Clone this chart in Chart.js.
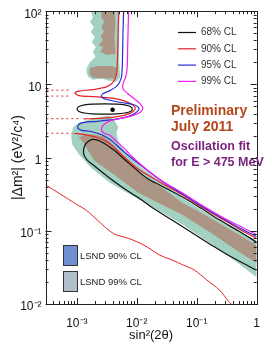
<!DOCTYPE html>
<html>
<head>
<meta charset="utf-8">
<script src="https://cdn.jsdelivr.net/npm/chart.js@4.4.1/dist/chart.umd.min.js"></script>
<style>
  html, body { margin: 0; padding: 0; background: #fff; }
  #plot { display: block; }
</style>
</head>
<body>
<canvas id="plot" width="272" height="346"></canvas>
<script>
// axis ticks
const xTicks = [1e-3, 1e-2, 1e-1, 1];
const xTickLabels = ['10⁻³', '10⁻²', '10⁻¹', '1'];
const yTicks = [1e-2, 1e-1, 1, 10, 100];
const yTickLabels = ['10⁻²', '10⁻¹', '1', '10', '10²'];

// all points are [sin²(2θ), Δm² (eV²)]
// 99% CL contour (magenta)
const cl99 = [[7.31e-3,100],[7.18e-3,60.7],[7.05e-3,32.5],[6.92e-3,17.4],[6.56e-3,12.7],[5.89e-3,10.2],[5.89e-3,8.75],
  [7.05e-3,7.5],[9.42e-3,6.21],[0.0117,5.31],[0.0126,4.69],[0.0113,4.14],[8.75e-3,3.77],[5.47e-3,3.43],[3.42e-3,3.13],
  [2.75e-3,2.76],[2.56e-3,2.43],[2.85e-3,2.15],[3.55e-3,2.02],[4.57e-3,1.67],[6.1e-3,1.35],[8.43e-3,1.02],[0.015,0.678],
  [0.0278,0.466],[0.0574,0.33],[0.118,0.227],[0.243,0.161],[0.5,0.118],[1,0.0889]];

// 95% CL contour (blue)
const cl95 = [[6.03e-3,100],[5.89e-3,51.9],[5.78e-3,23.8],[5.67e-3,14.9],[5.47e-3,12],[4.73e-3,9.62],[3.55e-3,8.22],
  [2.75e-3,7.5],[2.56e-3,6.82],[3.18e-3,6.21],[5.47e-3,5.66],[8.75e-3,5.31],[0.0109,4.69],[9.75e-3,4.14],[7.31e-3,3.65],
  [4.25e-3,3.33],[2.22e-3,3.13],[1.34e-3,3.03],[1.08e-3,2.85],[1.04e-3,2.51],[1.2e-3,2.36],[1.66e-3,2.29],[2.47e-3,2.08],
  [3.55e-3,1.78],[5.47e-3,1.3],[9.42e-3,0.897],[0.0162,0.636],[0.0278,0.458],[0.0574,0.32],[0.118,0.22],[0.243,0.156],
  [0.5,0.111],[1,0.0836]];

// 90% CL contour (red): upper lobe, lower band edge, bottom edge, thin slivers
const cl90Upper = [[5.03e-3,100],[4.91e-3,60.7],[4.82e-3,32.5],[4.73e-3,19.1],[4.57e-3,13.6],[4.09e-3,10.9],[3.18e-3,9.31],
  [1.85e-3,8.49],[1.08e-3,8.09],[9.3e-4,7.6],[1.08e-3,7.03],[1.85e-3,6.82],[3.18e-3,6.61],[5.27e-3,6.21],[7.57e-3,5.57],
  [9.42e-3,4.84],[8.75e-3,4.27],[6.56e-3,3.83],[3.81e-3,3.54],[2.22e-3,3.43],[1.29e-3,3.38]];
const cl90Band = [[8.97e-4,2.15],[1.29e-3,2.08],[1.85e-3,1.96],[2.65e-3,1.78],[3.81e-3,1.48],[5.89e-3,1.05],[0.0105,0.698],
  [0.0249,0.458],[0.0574,0.31],[0.118,0.213],[0.243,0.151],[0.5,0.107],[1,0.0785]];
const cl90Bottom = [[3.0e-4,0.425],[5.22e-4,0.32],[9.55e-4,0.234],[1.45e-3,0.19],[2.22e-3,0.139],[4.06e-3,0.0918],
  [7.38e-3,0.0785],[0.0132,0.0637],[0.0241,0.0466],[0.0389,0.0399],[0.0594,0.0341],[0.0908,0.0292],[0.147,0.0213],
  [0.238,0.0156],[0.34,0.0109],[0.376,0.01]];
const cl90SliverA = [[3.1e-4,8.35],[8.05e-4,8.35]];
const cl90SliverB = [[3.1e-4,6.93],[8.05e-4,6.93]];
const cl90SliverC = [[3.1e-4,3.4],[1.2e-3,3.4]];
const cl90SliverD = [[3.1e-4,2.15],[8.5e-4,2.15]];

// 68% CL contours (black): island around best fit, and the band
const cl68Island = [[1e-3,4.62],[1.08e-3,4.99],[1.34e-3,5.24],[1.85e-3,5.38],[2.9e-3,5.43],[4.57e-3,5.38],[6.33e-3,5.24],
  [7.85e-3,4.99],[8.43e-3,4.62],[7.85e-3,4.27],[6.33e-3,4.07],[4.57e-3,3.96],[2.9e-3,3.93],[1.85e-3,3.96],[1.34e-3,4.07],
  [1.08e-3,4.27],[1e-3,4.62]];
const cl68Band = [[1,0.07],[0.5,0.0993],[0.243,0.14],[0.118,0.203],[0.0574,0.291],[0.0249,0.417],[0.015,0.519],
  [7.31e-3,0.841],[4.09e-3,1.28],[2.47e-3,1.67],[1.85e-3,1.77],[1.49e-3,1.62],[1.34e-3,1.43],[1.29e-3,1.16],[1.44e-3,0.955],
  [1.97e-3,0.767],[3.18e-3,0.561],[5.82e-3,0.39],[0.0105,0.285],[0.0194,0.2],[0.0399,0.138],[0.0824,0.0946],
  [0.169,0.0652],[0.348,0.0455],[1,0.0289]];

const bestFit = [[3.95e-3, 4.51]];

// LSND allowed regions
const lsnd99Band = [[1,0.0715],[0.5,0.101],[0.243,0.138],[0.118,0.194],[0.0574,0.282],[0.0278,0.437],[0.0121,0.721],
  [6.56e-3,1.15],[4.91e-3,1.67],[4.57e-3,2.15],[4.91e-3,2.59],[4.25e-3,3.22],[3.42e-3,3.77],[2.56e-3,3.6],[1.66e-3,3.33],
  [1.08e-3,2.98],[8.65e-4,2.59],[8.05e-4,1.96],[8.36e-4,1.52],[1.08e-3,1.11],[1.72e-3,0.728],[3.55e-3,0.455],
  [8.43e-3,0.301],[0.0194,0.207],[0.0574,0.122],[0.169,0.0671],[0.419,0.0395],[1,0.0232]];
const lsnd99Top = [[1.72e-3,100],[1.85e-3,82.9],[1.66e-3,71],[1.92e-3,60.7],[1.72e-3,51.9],[1.99e-3,44.4],[1.78e-3,38],
  [2.06e-3,32.5],[1.85e-3,27.8],[2.06e-3,23.8],[1.66e-3,20.3],[1.49e-3,17.4],[1.44e-3,14.9],[1.55e-3,12.7],[1.85e-3,11.6],
  [2.65e-3,12],[3.42e-3,11.2],[4.57e-3,10.9],[5.27e-3,12.4],[5.09e-3,20.3],[5.09e-3,38],[5.09e-3,100]];
const lsnd90Band = [[1,0.0631],[0.5,0.0889],[0.243,0.125],[0.118,0.177],[0.0574,0.241],[0.0278,0.374],[0.0135,0.561],
  [5.89e-3,1.08],[3.81e-3,1.57],[2.82e-3,1.96],[1.72e-3,2.08],[1.29e-3,2.02],[1.08e-3,1.9],[1.24e-3,1.67],[1.44e-3,1.35],
  [1.99e-3,0.897],[4.09e-3,0.592],[0.0105,0.333],[0.0249,0.232],[0.0574,0.166],[0.169,0.0946],[0.419,0.0574],[1,0.036]];
const lsnd90Top = [[2.56e-3,100],[4.25e-3,100],[4.41e-3,71],[4.25e-3,44.4],[4.41e-3,26.1],[3.18e-3,25.3],[2.47e-3,27.8],
  [2.75e-3,32.5],[2.3e-3,34.6],[2.75e-3,40.5],[2.47e-3,45.8],[2.85e-3,51.9],[2.56e-3,60.7],[2.85e-3,71],[2.56e-3,82.9]];
const lsnd90Mid = [[1.66e-3,16.9],[2.22e-3,17.9],[3.81e-3,17.9],[4.57e-3,16.9],[4.73e-3,13.6],[4.25e-3,12],[2.65e-3,12],
  [1.85e-3,12.4],[1.6e-3,14]];

const clLabels = ['68% CL', '90% CL', '95% CL', '99% CL'];
const lsndLabels = ['LSND 90% CL', 'LSND 99% CL'];

const FONT = "'Liberation Sans', Arial, Helvetica, sans-serif";
const C68 = '#111111', C90 = '#e3242b', C95 = '#2a2ad8', C99 = '#f01ef0';
const TEAL = '#a3d1c1', BROWN = '#ad9585';

const toPts = arr => arr.map(([x, y]) => ({x, y}));

function area(pts, color, order) {
  return { data: toPts(pts), showLine: true, fill: 'shape', backgroundColor: color,
    borderColor: 'rgba(0,0,0,0)', borderWidth: 0, pointRadius: 0, tension: 0, order };
}
function curve(pts, color, extra) {
  return Object.assign({ data: toPts(pts), showLine: true, fill: false, borderColor: color,
    borderWidth: 1.2, pointRadius: 0, tension: 0.3, order: 1 }, extra || {});
}

// frame with inward ticks, legend and notes
const decor = {
  id: 'decor',
  afterDatasetsDraw(chart) {
    const {ctx, chartArea: a, scales: {x, y}} = chart;
    ctx.save();
    ctx.strokeStyle = '#222';
    ctx.lineWidth = 1;
    ctx.strokeRect(Math.round(a.left) + 0.5, Math.round(a.top) + 0.5,
      Math.round(a.right - a.left), Math.round(a.bottom - a.top));
    ctx.beginPath();
    for (let e = -4; e <= 2; e++) {
      for (let m = 1; m < 10; m++) {
        const v = m * Math.pow(10, e);
        const len = m === 1 ? 6 : 3;
        if (v >= x.min && v <= x.max) {
          const px = Math.round(x.getPixelForValue(v)) + 0.5;
          ctx.moveTo(px, a.bottom); ctx.lineTo(px, a.bottom - len);
          ctx.moveTo(px, a.top); ctx.lineTo(px, a.top + len);
        }
        if (v >= y.min && v <= y.max) {
          const py = Math.round(y.getPixelForValue(v)) + 0.5;
          ctx.moveTo(a.left, py); ctx.lineTo(a.left + len, py);
          ctx.moveTo(a.right, py); ctx.lineTo(a.right - len, py);
        }
      }
    }
    ctx.stroke();

    // CL legend
    const clColors = [C68, C90, C95, C99];
    ctx.font = '10px ' + FONT;
    ctx.textBaseline = 'middle';
    clLabels.forEach((t, i) => {
      const ly = 32.5 + i * 16.3;
      ctx.strokeStyle = clColors[i];
      ctx.lineWidth = 1.2;
      ctx.beginPath(); ctx.moveTo(178, ly); ctx.lineTo(196, ly); ctx.stroke();
      ctx.fillStyle = '#333';
      ctx.fillText(t, 201, ly);
    });

    // notes
    ctx.textBaseline = 'alphabetic';
    ctx.font = 'bold 14px ' + FONT;
    ctx.fillStyle = '#b5461c';
    ctx.fillText('Preliminary', 171, 115);
    ctx.fillText('July 2011', 171, 131);
    ctx.font = 'bold 12.5px ' + FONT;
    ctx.fillStyle = '#7b1f7c';
    ctx.fillText('Oscillation fit', 171, 150);
    ctx.fillText('for E > 475 MeV', 171, 166);

    // LSND legend
    const boxColors = ['#6f8fd3', '#afc0c9'];
    ctx.font = '9.5px ' + FONT;
    ctx.textBaseline = 'middle';
    lsndLabels.forEach((t, i) => {
      const top = 245 + i * 26;
      ctx.fillStyle = boxColors[i];
      ctx.fillRect(63.5, top + 0.5, 14, 20);
      ctx.strokeStyle = '#333';
      ctx.lineWidth = 1;
      ctx.strokeRect(63.5, top + 0.5, 14, 20);
      ctx.fillStyle = '#222';
      ctx.fillText(t, 80, top + 11);
    });
    ctx.restore();
  }
};

new Chart(document.getElementById('plot'), {
  type: 'scatter',
  data: {
    datasets: [
      curve(bestFit, C68, { showLine: false, pointRadius: 2.3, pointBackgroundColor: '#000', borderWidth: 0, order: 0 }),
      curve(cl99, C99),
      curve(cl95, C95),
      curve(cl90Upper, C90),
      curve(cl90Band, C90),
      curve(cl90Bottom, C90, { borderWidth: 1 }),
      curve(cl90SliverA, C90, { borderWidth: 1, borderDash: [2, 3], tension: 0 }),
      curve(cl90SliverB, C90, { borderWidth: 1, borderDash: [2, 3], tension: 0 }),
      curve(cl90SliverC, C90, { borderWidth: 1, borderDash: [2, 3], tension: 0 }),
      curve(cl90SliverD, C90, { borderWidth: 1, borderDash: [2, 3], tension: 0 }),
      curve(cl68Island, C68, { tension: 0.4 }),
      curve(cl68Band, C68),
      area(lsnd90Band, BROWN, 4),
      area(lsnd90Top, BROWN, 4),
      area(lsnd90Mid, BROWN, 4),
      area(lsnd99Band, TEAL, 5),
      area(lsnd99Top, TEAL, 5)
    ]
  },
  options: {
    responsive: false,
    animation: false,
    devicePixelRatio: 1,
    layout: { padding: { top: 9, right: 3, left: 0, bottom: 0 } },
    plugins: { legend: { display: false }, tooltip: { enabled: false } },
    scales: {
      x: {
        type: 'logarithmic', min: 3.1e-4, max: 1,
        afterBuildTicks: s => { s.ticks = xTicks.map(v => ({ value: v })); },
        afterFit: s => { s.height = 42; },
        grid: { display: false, drawTicks: false },
        border: { display: false },
        ticks: { padding: 12, color: '#111', maxRotation: 0, autoSkip: false,
          font: { family: FONT, size: 12 }, callback: (v, i) => xTickLabels[i] },
        title: { display: true, text: 'sin²(2θ)', color: '#111',
          font: { family: FONT, size: 13 }, padding: { top: 0, bottom: 3 } }
      },
      y: {
        type: 'logarithmic', min: 0.01, max: 100,
        afterBuildTicks: s => { s.ticks = yTicks.map(v => ({ value: v })); },
        afterFit: s => { s.width = 45.5; },
        grid: { display: false, drawTicks: false },
        border: { display: false },
        ticks: { padding: 4, labelOffset: 3, color: '#111', autoSkip: false,
          font: { family: FONT, size: 12 }, callback: (v, i) => yTickLabels[i] },
        title: { display: true, text: '|Δm²| (eV²/c⁴)', color: '#111',
          font: { family: FONT, size: 14 }, padding: { top: 10, bottom: 0 } }
      }
    }
  },
  plugins: [decor]
});
</script>
</body>
</html>
